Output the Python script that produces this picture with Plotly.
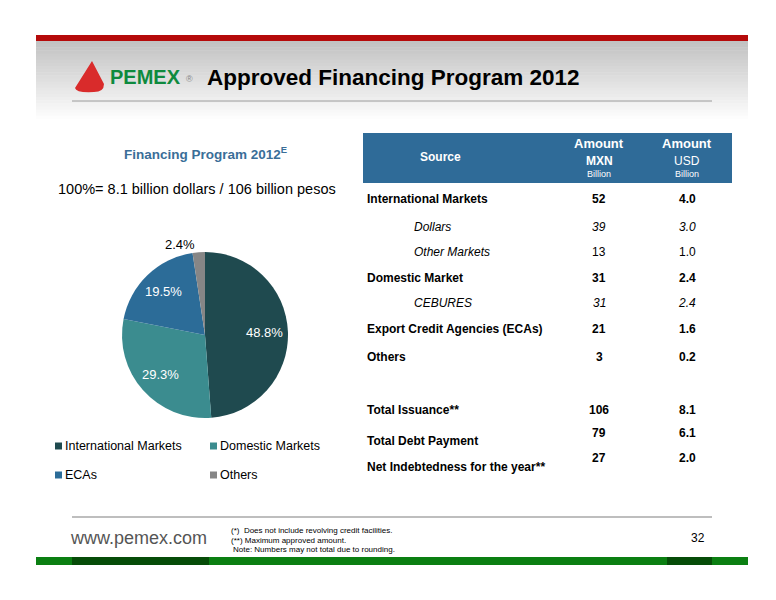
import math
import plotly.graph_objects as go

W, H = 768, 592   # page body margin is 8px; keep the figure inside the window
OFF = 8

# ---------------- data ----------------
pie_labels = ["International Markets", "Domestic Markets", "ECAs", "Others"]
pie_values = [48.8, 29.3, 19.5, 2.4]
pie_colors = ["#1f4a4f", "#3b8c8f", "#2c6c98", "#868686"]

row_labels = ["International Markets", "Dollars", "Other Markets", "Domestic Market",
              "CEBURES", "Export Credit Agencies (ECAs)", "Others",
              "Total Issuance**", "Total Debt Payment", "Net Indebtedness for the year**"]
row_mxn = ["52", "39", "13", "31", "31", "21", "3", "106", "79", "27"]
row_usd = ["4.0", "3.0", "1.0", "2.4", "2.4", "1.6", "0.2", "8.1", "6.1", "2.0"]
row_style = ["bold", "italic", "sub", "bold", "italic", "bold", "bold", "bold", "bold", "bold"]
row_y = [199, 227, 252, 278, 303, 329, 357, 410, 441, 467]
val_y = [199, 227, 252, 278, 303, 329, 357, 410, 433, 458]


def X(p):
    return (p - OFF) / W


def Y(p):
    return 1 - (p - OFF) / H


FONT = "Liberation Sans, Arial, sans-serif"
shapes = []
annots = []


def rect(x0, y0, x1, y1, color):
    shapes.append(dict(type="rect", xref="paper", yref="paper",
                       x0=X(x0), x1=X(x1), y0=Y(y1), y1=Y(y0),
                       fillcolor=color, line=dict(width=0), layer="below"))


def text(x, y, s, size=12, color="#000", anchor="left", bold=False, italic=False, fam=FONT):
    if bold:
        s = "<b>" + s + "</b>"
    if italic:
        s = "<i>" + s + "</i>"
    annots.append(dict(x=X(x), y=Y(y), xref="paper", yref="paper", text=s,
                       showarrow=False, xanchor=anchor, yanchor="middle",
                       font=dict(size=size, color=color, family=fam)))


# header gradient
n = 26
top, bot = 41, 122
for i in range(n):
    y0 = top + (bot - top) * i / n
    y1 = top + (bot - top) * (i + 1) / n + 0.5
    t = i / (n - 1)
    g = int(round(0xc2 + (0xff - 0xc2) * t))
    rect(36, y0, 748, y1, "rgb(%d,%d,%d)" % (g, g, g))
rect(36, 35, 748, 41, "#b50a0a")
shapes.append(dict(type="line", xref="paper", yref="paper", x0=X(72), x1=X(712),
                   y0=Y(101), y1=Y(101), line=dict(color="#9a9a9a", width=1)))

# logo
shapes.append(dict(type="path", xref="paper", yref="paper",
                   path="M %f %f L %f %f Q %f %f %f %f Q %f %f %f %f Z" % (
                       X(92), Y(61), X(104), Y(84), X(104), Y(92), X(94), Y(92),
                       X(76), Y(93), X(75), Y(88)),
                   fillcolor="#d92b2b", line=dict(width=0)))
text(108, 77, "PEMEX", size=20, color="#0e8a3e", bold=True)
text(184, 79, "®", size=9, color="#888")
text(205, 77, "Approved Financing Program 2012", size=22.5, color="#000", bold=True)

# left chart titles
text(205, 153, "Financing Program 2012<sup>E</sup>", size=13.5, color="#3a6e98", anchor="center", bold=True)
text(197, 189, "100%= 8.1 billion dollars / 106 billion pesos", size=14.5, color="#000", anchor="center")

# legend (manual, two columns)
leg_pos = [(62, 446), (217, 446), (62, 475), (217, 475)]
for (lx, ly), lab, col in zip(leg_pos, pie_labels, pie_colors):
    rect(lx - 7, ly - 3.5, lx, ly + 3.5, col)
    text(lx + 1, ly, lab, size=12.5, color="#000")

# table header
rect(363, 133, 732, 183, "#2f6b98")
text(440, 157, "Source", size=12, color="#fff", anchor="center", bold=True)
text(599, 143, "Amount", size=13, color="#fff", anchor="center", bold=True)
text(599, 161, "MXN", size=12, color="#fff", anchor="center", bold=True)
text(599, 174, "Billion", size=9, color="#fff", anchor="center")
text(687, 143, "Amount", size=13, color="#fff", anchor="center", bold=True)
text(687, 161, "USD", size=12, color="#fff", anchor="center")
text(687, 174, "Billion", size=9, color="#fff", anchor="center")

for lab, m, u, st, ry, vy in zip(row_labels, row_mxn, row_usd, row_style, row_y, val_y):
    b = st == "bold"
    it = st == "italic"
    lx = 365 if b else 412
    text(lx, ry, lab, size=12, bold=b, italic=(st != "bold"))
    text(599, vy, m, size=12, anchor="center", bold=b, italic=it)
    text(687, vy, u, size=12, anchor="center", bold=b, italic=it)

# footer
shapes.append(dict(type="line", xref="paper", yref="paper", x0=X(72), x1=X(712),
                   y0=Y(517), y1=Y(517), line=dict(color="#a8a8a8", width=1.5)))
text(68, 538, "www.pemex.com", size=18, color="#555")
text(229, 530, "(*)  Does not include revolving credit facilities.", size=8)
text(229, 540, "(**) Maximum approved amount.", size=8)
text(231, 549, "Note: Numbers may not total due to rounding.", size=8)
text(698, 538, "32", size=12, anchor="center")
rect(36, 557, 748, 565, "#0b7f12")
rect(72, 557, 209, 565, "#064c08")
rect(667, 557, 712, 565, "#064c08")

# pie geometry (pixels) and labels for the large slices at ~0.72 radius
cx, cy, R = 205, 335, 83
total = sum(pie_values)
cum = 0.0
for v in pie_values:
    mid = (cum + v / 2) / total * 2 * math.pi
    cum += v
    if v / total < 0.05:
        continue
    lx = cx + 0.72 * R * math.sin(mid)
    ly = cy - 0.72 * R * math.cos(mid)
    annots.append(dict(x=X(lx), y=Y(ly), xref="paper", yref="paper",
                       text="%.1f%%" % v, showarrow=False, xanchor="center",
                       yanchor="middle", font=dict(size=13, color="#fff", family=FONT)))

textpos = ["outside" if v / total < 0.05 else "none" for v in pie_values]

fig = go.Figure(go.Pie(
    labels=pie_labels, values=pie_values, sort=False, direction="clockwise",
    marker=dict(colors=pie_colors, line=dict(width=0)),
    texttemplate="%{value:.1f}%", textposition=textpos,
    outsidetextfont=dict(color="#000", size=13, family=FONT),
    domain=dict(x=[X(cx - R), X(cx + R)], y=[Y(cy + R), Y(cy - R)]),
    showlegend=False, hoverinfo="label+percent"))

fig.update_layout(width=W, height=H, margin=dict(l=0, r=0, t=0, b=0),
                  paper_bgcolor="#fff", plot_bgcolor="#fff",
                  shapes=shapes, annotations=annots, font=dict(family=FONT))
fig.write_html("out.html")
